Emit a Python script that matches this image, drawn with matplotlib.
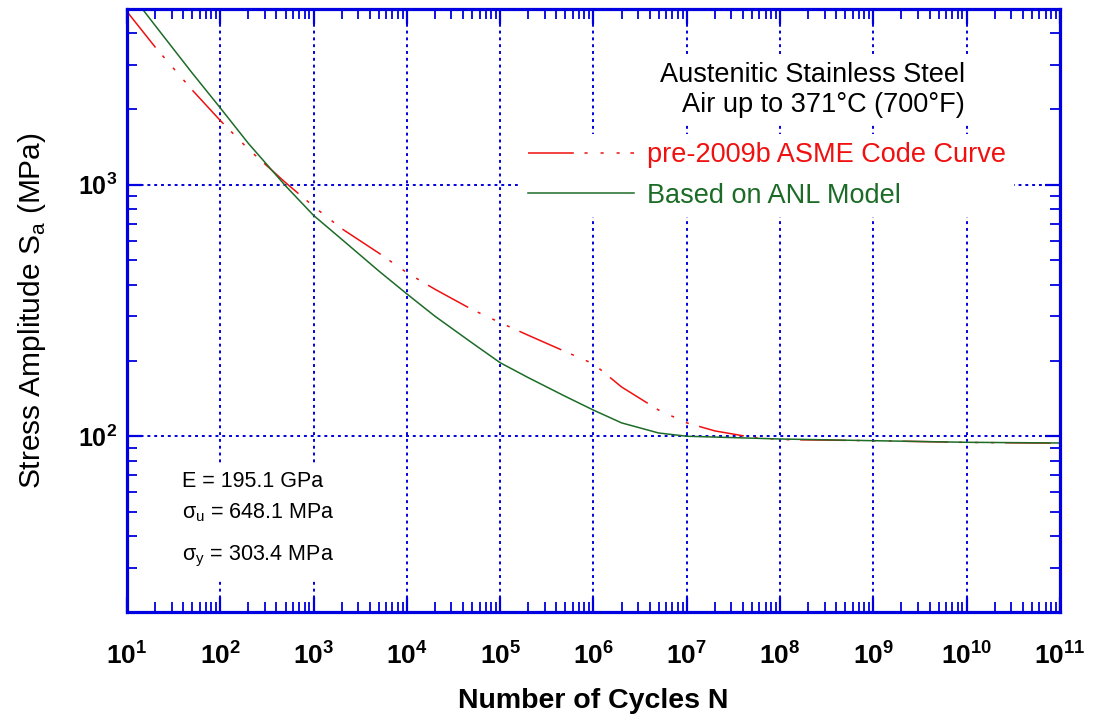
import numpy as np
import matplotlib
matplotlib.use("Agg")
import matplotlib.pyplot as plt
from matplotlib.ticker import LogLocator, NullFormatter
from matplotlib.patches import Rectangle

plt.rcParams['font.family'] = ['Liberation Sans', 'DejaVu Sans']
plt.rcParams['mathtext.fontset'] = 'custom'
plt.rcParams['mathtext.rm'] = 'Liberation Sans'

# pre-2009b ASME design curve, austenitic SS (MPa)
n_asme = [1e1, 2e1, 5e1, 1e2, 2e2, 5e2, 1e3, 2e3, 5e3, 1e4, 2e4, 5e4, 1e5,
          2e5, 5e5, 1e6, 2e6, 5e6, 1e7, 2e7, 5e7, 1e8, 1e9, 1e10, 1e11]
s_asme = [4880, 3530, 2380, 1800, 1386, 1020, 820, 669, 535, 447, 384, 319, 283,
          252, 217, 194, 157, 127, 113, 105, 99, 97, 96, 94.5, 93.8]

# design curve based on the ANL model (MPa)
n_anl = [1e1, 2e1, 5e1, 1e2, 2e2, 5e2, 1e3, 2e3, 5e3, 1e4, 2e4, 5e4, 1e5,
         2e5, 5e5, 1e6, 2e6, 5e6, 1e7, 1e8, 1e9, 1e10, 1e11]
s_anl = [6000, 4300, 2780, 2020, 1460, 990, 755, 607, 454, 368, 300, 235, 196,
         171, 144, 127, 113, 103, 100, 97.5, 96, 94.6, 94]

x_decades = list(range(1, 12))
y_decades = [2, 3]

props = ["E = 195.1 GPa", "σ$_\\mathregular{u}$ = 648.1 MPa", "σ$_\\mathregular{y}$ = 303.4 MPa"]
props_y = [0.2073, 0.1559, 0.0862]

blue = '#0000e0'
red = '#f01010'
green = '#1c6c28'

fig = plt.figure(figsize=(10.93, 7.23), dpi=100)
ax = fig.add_axes([0.1162, 0.1535, 0.8536, 0.8341])

lw = 1.1
ax.plot(n_asme, s_asme, color=red, lw=lw,
        linestyle=(0, (30, 7, 2, 8.5, 2, 8.5, 2, 7)),
        label='pre-2009b ASME Code Curve')
ax.plot(n_anl, s_anl, color=green, lw=lw, label='Based on ANL Model')

ax.set_xscale('log')
ax.set_yscale('log')
ax.set_xlim(1e1, 1e11)
ax.set_ylim(20, 5000)

ax.set_xticks([10.0 ** d for d in x_decades],
              labels=['$\\mathregular{10^{%d}}$' % d for d in x_decades],
              fontsize=19, fontweight='bold')
ax.set_yticks([10.0 ** d for d in y_decades],
              labels=['$\\mathregular{10^{%d}}$' % d for d in y_decades],
              fontsize=18, fontweight='bold')
ax.xaxis.set_minor_locator(LogLocator(base=10, subs=np.arange(2, 10), numticks=100))
ax.yaxis.set_minor_locator(LogLocator(base=10, subs=np.arange(2, 10), numticks=100))
ax.xaxis.set_minor_formatter(NullFormatter())
ax.yaxis.set_minor_formatter(NullFormatter())

ax.tick_params(which='both', direction='in', top=True, right=True, color=blue)
ax.tick_params(which='major', length=11, width=1.6)
ax.tick_params(which='minor', length=7, width=1.3)
ax.tick_params(axis='x', which='major', pad=22)
ax.tick_params(axis='y', which='major', pad=7)

for sp in ax.spines.values():
    sp.set_color(blue)
    sp.set_linewidth(2.3)

ax.grid(True, which='major', color=blue, linestyle=(0, (1.5, 2)), lw=1.4)

ax.set_xlabel('Number of Cycles N', fontsize=20.5, fontweight='bold', labelpad=13)
ax.set_ylabel('Stress Amplitude S$_\\mathregular{a}$ (MPa)', fontsize=21.5, labelpad=22)

# title block
tb = dict(fc='white', ec='none', pad=5)
ax.text(0.898, 0.879, 'Austenitic Stainless Steel', transform=ax.transAxes,
        ha='right', va='baseline', fontsize=19.5, bbox=tb)
ax.text(0.898, 0.829, 'Air up to 371°C (700°F)', transform=ax.transAxes,
        ha='right', va='baseline', fontsize=19.5, bbox=tb)

leg = ax.legend(loc='upper left', bbox_to_anchor=(0.4212, 0.7928), frameon=True,
                fancybox=False, edgecolor='none', facecolor='white', framealpha=1,
                handlelength=3.9, handletextpad=0.48, labelspacing=0.54,
                borderpad=0.3, borderaxespad=0, labelcolor='linecolor', fontsize=19.5)

# material properties box
ax.add_patch(Rectangle((0.048, 0.056), 0.241, 0.187, transform=ax.transAxes,
                       fc='white', ec='none', zorder=2))
for txt, yy in zip(props, props_y):
    ax.text(0.059, yy, txt, transform=ax.transAxes, ha='left', va='baseline',
            fontsize=15.5, zorder=3)

fig.savefig('out.png', dpi=100)
